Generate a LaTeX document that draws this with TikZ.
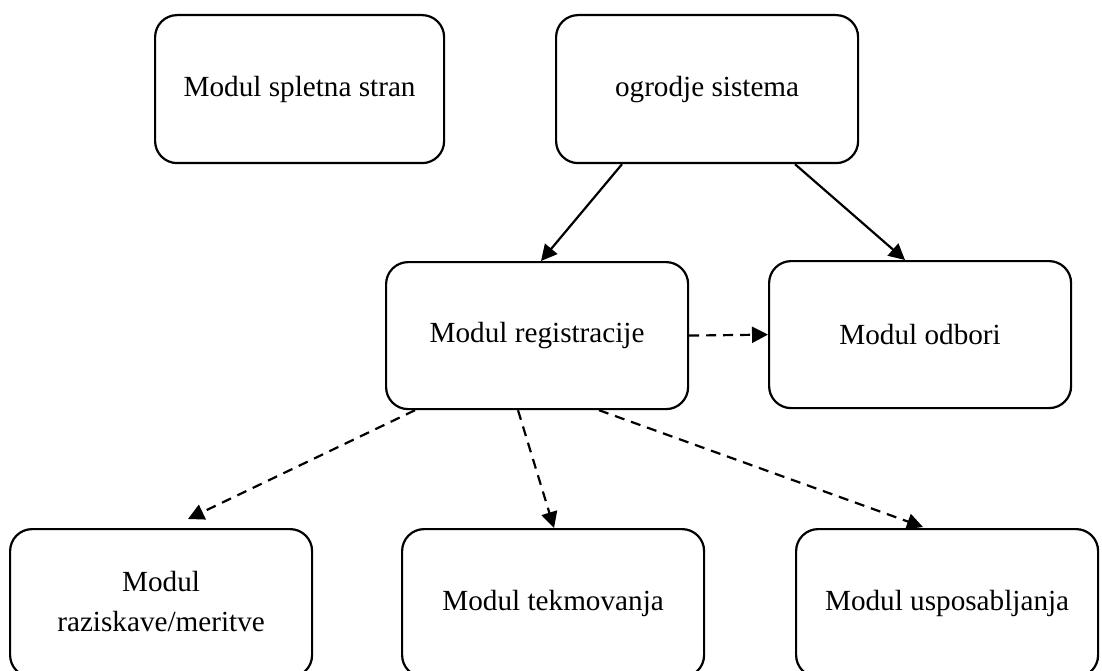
\documentclass[tikz,border=0pt]{standalone}
\usepackage{fontspec}
\setmainfont{Liberation Serif}
\usetikzlibrary{arrows.meta,calc}
\begin{document}
\begin{tikzpicture}[x=1pt,y=-1pt,
  modbox/.style={draw, line width=2.2pt, rounded corners=22pt, minimum width=302pt, minimum height=148pt, anchor=north west, inner sep=0pt, font=\fontsize{29.2}{40}\selectfont, align=center},
  conn/.style={line width=2.2pt, -{Triangle[length=16pt,width=16pt]}},
  dconn/.style={conn, dash pattern=on 10pt off 7pt}]
\useasboundingbox (0,0) rectangle (1102,671);
\node[modbox, minimum width=289pt] (web) at (154,14) {Modul spletna stran};
\node[modbox] (og) at (555,14) {ogrodje sistema};
\node[modbox, minimum height=147pt] (reg) at (385,261) {Modul registracije};
\node[modbox, minimum height=147pt] (odb) at (768,260) {Modul odbori};
\node[modbox] (raz) at (9,528) {\raisebox{19pt}{\begin{tabular}{@{}c@{}}Modul\\raziskave/meritve\end{tabular}}};
\node[modbox] (tek) at (401,528) {Modul tekmovanja};
\node[modbox] (usp) at (795,528) {Modul usposabljanja};
\draw[conn] ($(og.south west)+(67,0)$) -- ($(reg.north west)+(156,0)$);
\draw[conn] ($(og.south west)+(240,0)$) -- ($(odb.north west)+(137,0)$);
\draw[dconn] (reg.east) -- (odb.west);
\draw[dconn] ($(reg.south west)+(30,0)$) -- ($(raz.north west)+(179,-9)$);
\draw[dconn] ($(reg.south west)+(133,0)$) -- ($(tek.north west)+(153,0)$);
\draw[dconn] ($(reg.south west)+(214,0)$) -- ($(usp.north west)+(128,-1)$);
\end{tikzpicture}
\end{document}
